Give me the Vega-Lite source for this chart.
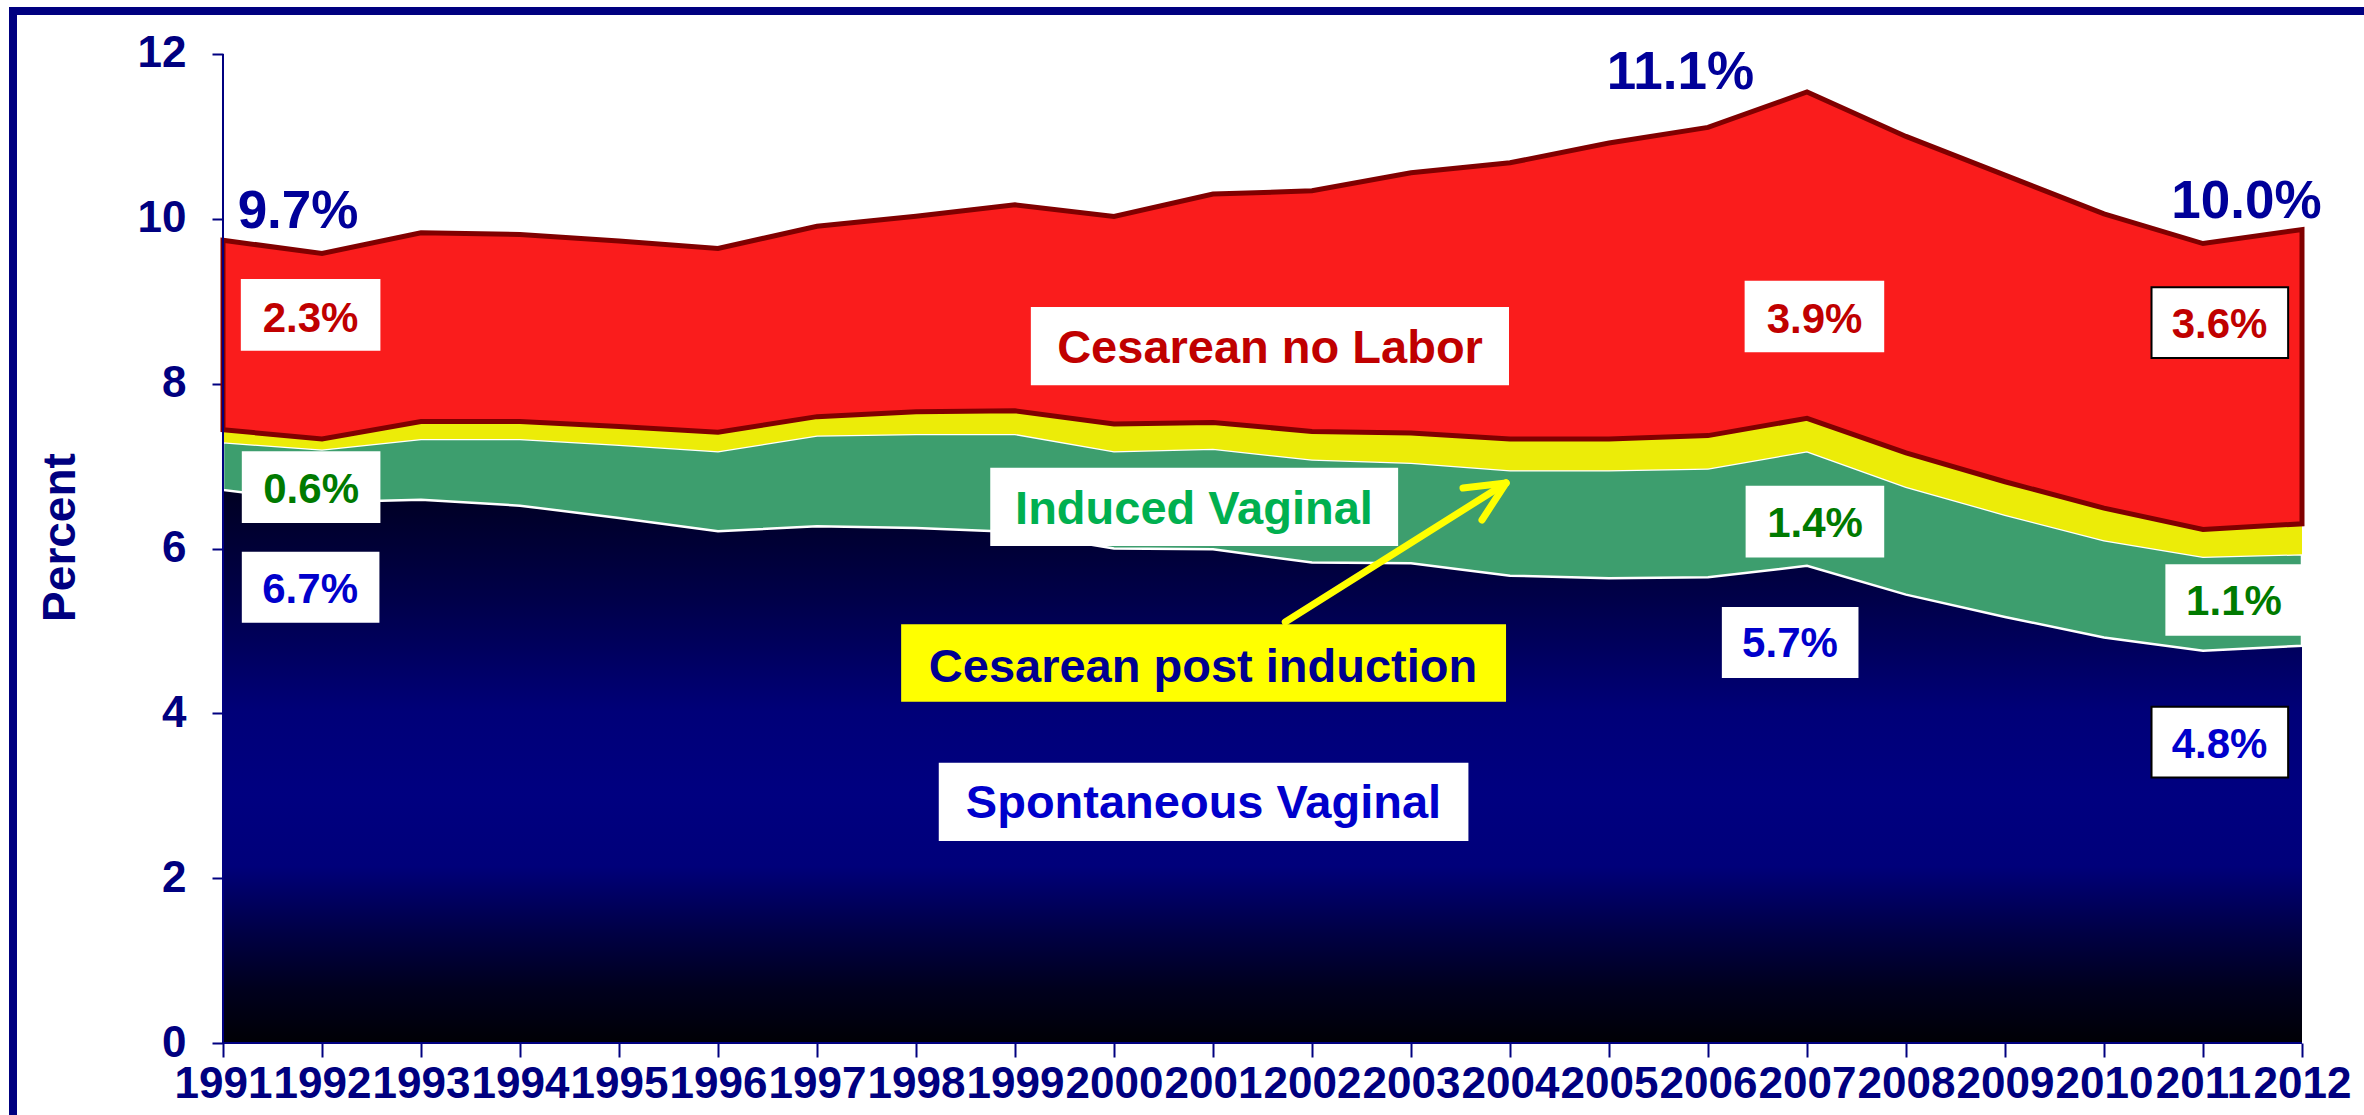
{
  "$schema": "https://vega.github.io/schema/vega-lite/v6.json",
  "width": 2355,
  "height": 1108,
  "autosize": {"type": "none"},
  "padding": {"left": 13, "top": 11, "right": 0, "bottom": 0},
  "background": "white",
  "config": {
    "view": {"stroke": "#000080", "strokeWidth": 8},
    "font": "Liberation Sans"
  },
  "datasets": {
    "births": [
      {"year": 1991, "series": "Spontaneous Vaginal", "pct": 6.71},
      {"year": 1991, "series": "Induced Vaginal", "pct": 0.58},
      {"year": 1991, "series": "Cesarean post induction", "pct": 0.15},
      {"year": 1991, "series": "Cesarean no Labor", "pct": 2.30},
      {"year": 1992, "series": "Spontaneous Vaginal", "pct": 6.56},
      {"year": 1992, "series": "Induced Vaginal", "pct": 0.64},
      {"year": 1992, "series": "Cesarean post induction", "pct": 0.13},
      {"year": 1992, "series": "Cesarean no Labor", "pct": 2.25},
      {"year": 1993, "series": "Spontaneous Vaginal", "pct": 6.59},
      {"year": 1993, "series": "Induced Vaginal", "pct": 0.74},
      {"year": 1993, "series": "Cesarean post induction", "pct": 0.21},
      {"year": 1993, "series": "Cesarean no Labor", "pct": 2.29},
      {"year": 1994, "series": "Spontaneous Vaginal", "pct": 6.52},
      {"year": 1994, "series": "Induced Vaginal", "pct": 0.81},
      {"year": 1994, "series": "Cesarean post induction", "pct": 0.21},
      {"year": 1994, "series": "Cesarean no Labor", "pct": 2.27},
      {"year": 1995, "series": "Spontaneous Vaginal", "pct": 6.37},
      {"year": 1995, "series": "Induced Vaginal", "pct": 0.89},
      {"year": 1995, "series": "Cesarean post induction", "pct": 0.22},
      {"year": 1995, "series": "Cesarean no Labor", "pct": 2.25},
      {"year": 1996, "series": "Spontaneous Vaginal", "pct": 6.21},
      {"year": 1996, "series": "Induced Vaginal", "pct": 0.97},
      {"year": 1996, "series": "Cesarean post induction", "pct": 0.23},
      {"year": 1996, "series": "Cesarean no Labor", "pct": 2.23},
      {"year": 1997, "series": "Spontaneous Vaginal", "pct": 6.27},
      {"year": 1997, "series": "Induced Vaginal", "pct": 1.10},
      {"year": 1997, "series": "Cesarean post induction", "pct": 0.23},
      {"year": 1997, "series": "Cesarean no Labor", "pct": 2.31},
      {"year": 1998, "series": "Spontaneous Vaginal", "pct": 6.25},
      {"year": 1998, "series": "Induced Vaginal", "pct": 1.14},
      {"year": 1998, "series": "Cesarean post induction", "pct": 0.27},
      {"year": 1998, "series": "Cesarean no Labor", "pct": 2.37},
      {"year": 1999, "series": "Spontaneous Vaginal", "pct": 6.20},
      {"year": 1999, "series": "Induced Vaginal", "pct": 1.19},
      {"year": 1999, "series": "Cesarean post induction", "pct": 0.28},
      {"year": 1999, "series": "Cesarean no Labor", "pct": 2.50},
      {"year": 2000, "series": "Spontaneous Vaginal", "pct": 6.00},
      {"year": 2000, "series": "Induced Vaginal", "pct": 1.18},
      {"year": 2000, "series": "Cesarean post induction", "pct": 0.33},
      {"year": 2000, "series": "Cesarean no Labor", "pct": 2.52},
      {"year": 2001, "series": "Spontaneous Vaginal", "pct": 5.99},
      {"year": 2001, "series": "Induced Vaginal", "pct": 1.22},
      {"year": 2001, "series": "Cesarean post induction", "pct": 0.32},
      {"year": 2001, "series": "Cesarean no Labor", "pct": 2.77},
      {"year": 2002, "series": "Spontaneous Vaginal", "pct": 5.83},
      {"year": 2002, "series": "Induced Vaginal", "pct": 1.25},
      {"year": 2002, "series": "Cesarean post induction", "pct": 0.34},
      {"year": 2002, "series": "Cesarean no Labor", "pct": 2.92},
      {"year": 2003, "series": "Spontaneous Vaginal", "pct": 5.82},
      {"year": 2003, "series": "Induced Vaginal", "pct": 1.22},
      {"year": 2003, "series": "Cesarean post induction", "pct": 0.36},
      {"year": 2003, "series": "Cesarean no Labor", "pct": 3.16},
      {"year": 2004, "series": "Spontaneous Vaginal", "pct": 5.67},
      {"year": 2004, "series": "Induced Vaginal", "pct": 1.28},
      {"year": 2004, "series": "Cesarean post induction", "pct": 0.38},
      {"year": 2004, "series": "Cesarean no Labor", "pct": 3.35},
      {"year": 2005, "series": "Spontaneous Vaginal", "pct": 5.64},
      {"year": 2005, "series": "Induced Vaginal", "pct": 1.31},
      {"year": 2005, "series": "Cesarean post induction", "pct": 0.38},
      {"year": 2005, "series": "Cesarean no Labor", "pct": 3.59},
      {"year": 2006, "series": "Spontaneous Vaginal", "pct": 5.65},
      {"year": 2006, "series": "Induced Vaginal", "pct": 1.32},
      {"year": 2006, "series": "Cesarean post induction", "pct": 0.40},
      {"year": 2006, "series": "Cesarean no Labor", "pct": 3.74},
      {"year": 2007, "series": "Spontaneous Vaginal", "pct": 5.79},
      {"year": 2007, "series": "Induced Vaginal", "pct": 1.39},
      {"year": 2007, "series": "Cesarean post induction", "pct": 0.40},
      {"year": 2007, "series": "Cesarean no Labor", "pct": 3.96},
      {"year": 2008, "series": "Spontaneous Vaginal", "pct": 5.44},
      {"year": 2008, "series": "Induced Vaginal", "pct": 1.31},
      {"year": 2008, "series": "Cesarean post induction", "pct": 0.41},
      {"year": 2008, "series": "Cesarean no Labor", "pct": 3.84},
      {"year": 2009, "series": "Spontaneous Vaginal", "pct": 5.17},
      {"year": 2009, "series": "Induced Vaginal", "pct": 1.24},
      {"year": 2009, "series": "Cesarean post induction", "pct": 0.40},
      {"year": 2009, "series": "Cesarean no Labor", "pct": 3.72},
      {"year": 2010, "series": "Spontaneous Vaginal", "pct": 4.92},
      {"year": 2010, "series": "Induced Vaginal", "pct": 1.18},
      {"year": 2010, "series": "Cesarean post induction", "pct": 0.39},
      {"year": 2010, "series": "Cesarean no Labor", "pct": 3.57},
      {"year": 2011, "series": "Spontaneous Vaginal", "pct": 4.76},
      {"year": 2011, "series": "Induced Vaginal", "pct": 1.14},
      {"year": 2011, "series": "Cesarean post induction", "pct": 0.33},
      {"year": 2011, "series": "Cesarean no Labor", "pct": 3.47},
      {"year": 2012, "series": "Spontaneous Vaginal", "pct": 4.82},
      {"year": 2012, "series": "Induced Vaginal", "pct": 1.11},
      {"year": 2012, "series": "Cesarean post induction", "pct": 0.37},
      {"year": 2012, "series": "Cesarean no Labor", "pct": 3.57}
    ],
    "axislines": [
      {"year": 1991, "value": 0, "year2": 1991, "value2": 12},
      {"year": 1991, "value": 0, "year2": 2012, "value2": 0}
    ],
    "arrow": [
      {"year": 2001.73, "value": 5.108, "year2": 2003.96, "value2": 6.795},
      {"year": 2003.96, "value": 6.795, "year2": 2003.525, "value2": 6.734},
      {"year": 2003.96, "value": 6.795, "year2": 2003.717, "value2": 6.346}
    ],
    "boxes": [
      {"year": 1991.18, "year2": 1992.59, "value": 9.27, "value2": 8.40, "kind": "plain"},
      {"year": 1991.19, "year2": 1992.59, "value": 7.18, "value2": 6.31, "kind": "plain"},
      {"year": 1991.19, "year2": 1992.58, "value": 5.96, "value2": 5.10, "kind": "plain"},
      {"year": 1999.16, "year2": 2003.99, "value": 8.93, "value2": 7.98, "kind": "plain"},
      {"year": 1998.75, "year2": 2002.87, "value": 6.98, "value2": 6.03, "kind": "plain"},
      {"year": 1997.85, "year2": 2003.96, "value": 5.08, "value2": 4.14, "kind": "yellow"},
      {"year": 1998.23, "year2": 2003.58, "value": 3.40, "value2": 2.45, "kind": "plain"},
      {"year": 2006.37, "year2": 2007.78, "value": 9.25, "value2": 8.38, "kind": "plain"},
      {"year": 2010.48, "year2": 2011.86, "value": 9.17, "value2": 8.31, "kind": "outlined"},
      {"year": 2006.38, "year2": 2007.78, "value": 6.76, "value2": 5.89, "kind": "plain"},
      {"year": 2010.62, "year2": 2012.01, "value": 5.81, "value2": 4.94, "kind": "plain"},
      {"year": 2006.14, "year2": 2007.52, "value": 5.29, "value2": 4.43, "kind": "plain"},
      {"year": 2010.48, "year2": 2011.86, "value": 4.08, "value2": 3.22, "kind": "outlined"}
    ],
    "notes": [
      {"text": "2.3%", "year": 1991.884, "value": 8.627, "kind": "red", "role": "pct"},
      {"text": "0.6%", "year": 1991.89, "value": 6.552, "kind": "green", "role": "pct"},
      {"text": "6.7%", "year": 1991.88, "value": 5.339, "kind": "blue", "role": "pct"},
      {"text": "3.9%", "year": 2007.076, "value": 8.615, "kind": "red", "role": "pct"},
      {"text": "3.6%", "year": 2011.167, "value": 8.554, "kind": "red", "role": "pct"},
      {"text": "1.4%", "year": 2007.081, "value": 6.139, "kind": "green", "role": "pct"},
      {"text": "1.1%", "year": 2011.313, "value": 5.193, "kind": "green", "role": "pct"},
      {"text": "5.7%", "year": 2006.828, "value": 4.684, "kind": "blue", "role": "pct"},
      {"text": "4.8%", "year": 2011.167, "value": 3.458, "kind": "blue", "role": "pct"},
      {"text": "Cesarean no Labor", "year": 2001.576, "value": 8.251, "kind": "red", "role": "name"},
      {"text": "Induced Vaginal", "year": 2000.808, "value": 6.297, "kind": "lightgreen", "role": "name"},
      {"text": "Cesarean post induction", "year": 2000.899, "value": 4.380, "kind": "navy", "role": "name"},
      {"text": "Spontaneous Vaginal", "year": 2000.904, "value": 2.730, "kind": "blue", "role": "name"},
      {"text": "9.7%", "year": 1991.758, "value": 9.89, "kind": "total", "role": "total"},
      {"text": "11.1%", "year": 2005.722, "value": 11.575, "kind": "total", "role": "total"},
      {"text": "10.0%", "year": 2011.439, "value": 10.010, "kind": "total", "role": "total"}
    ]
  },
  "encoding": {
    "x": {
      "field": "year",
      "type": "quantitative",
      "scale": {"domain": [1988.8788, 2012.6667], "nice": false, "zero": false},
      "axis": {
        "values": [1991, 1992, 1993, 1994, 1995, 1996, 1997, 1998, 1999, 2000, 2001, 2002, 2003, 2004, 2005, 2006, 2007, 2008, 2009, 2010, 2011, 2012],
        "format": "d",
        "domain": false,
        "grid": false,
        "offset": -76,
        "tickSize": 14,
        "tickWidth": 2,
        "tickColor": "#000080",
        "labelFont": "Liberation Sans",
        "labelFontSize": 44,
        "labelFontWeight": "bold",
        "labelColor": "#000080",
        "labelBaseline": "alphabetic",
        "labelPadding": 40,
        "labelOverlap": false,
        "labelFlush": false,
        "title": null
      }
    },
    "y": {
      "field": "value",
      "type": "quantitative",
      "scale": {"domain": [-0.9221, 12.5217], "nice": false, "zero": false},
      "axis": {
        "values": [0, 2, 4, 6, 8, 10, 12],
        "domain": false,
        "grid": false,
        "offset": -210,
        "tickSize": 11,
        "tickWidth": 2,
        "tickColor": "#000080",
        "labelFont": "Liberation Sans",
        "labelFontSize": 44,
        "labelFontWeight": "bold",
        "labelColor": "#000080",
        "labelPadding": 26,
        "title": "Percent",
        "titleFont": "Liberation Sans",
        "titleFontSize": 46,
        "titleFontWeight": "bold",
        "titleColor": "#000080",
        "titleAngle": -90,
        "titleX": -149,
        "titleY": 526,
        "titleAlign": "center",
        "titleBaseline": "alphabetic"
      }
    }
  },
  "layer": [
    {
      "data": {"name": "births"},
      "transform": [
        {"stack": "pct", "groupby": ["year"], "sort": [{"field": "series", "order": "descending"}], "as": ["value2", "value"]}
      ],
      "layer": [
        {
          "transform": [{"filter": "datum.series == 'Spontaneous Vaginal'"}],
          "mark": {
            "type": "area",
            "interpolate": "linear",
            "fill": {
              "gradient": "linear", "x1": 0, "y1": 0, "x2": 0, "y2": 1,
              "stops": [
                {"offset": 0, "color": "#000022"},
                {"offset": 0.2, "color": "#00004a"},
                {"offset": 0.4, "color": "#000078"},
                {"offset": 0.55, "color": "#000080"},
                {"offset": 0.68, "color": "#00007a"},
                {"offset": 0.8, "color": "#000045"},
                {"offset": 0.9, "color": "#00001e"},
                {"offset": 1, "color": "#000005"}
              ]
            }
          },
          "encoding": {"y2": {"field": "value2"}}
        },
        {
          "transform": [{"filter": "datum.series == 'Induced Vaginal'"}],
          "mark": {"type": "area", "interpolate": "linear", "fill": "#3d9e6e", "stroke": "#ffffff", "strokeWidth": 2.5},
          "encoding": {"y2": {"field": "value2"}}
        },
        {
          "transform": [{"filter": "datum.series == 'Cesarean post induction'"}],
          "mark": {"type": "area", "interpolate": "linear", "fill": "#ecec08"},
          "encoding": {"y2": {"field": "value2"}}
        },
        {
          "transform": [{"filter": "datum.series == 'Cesarean no Labor'"}],
          "mark": {"type": "area", "interpolate": "linear", "fill": "#fa1c1c", "stroke": "#800000", "strokeWidth": 5, "strokeJoin": "miter"},
          "encoding": {"y2": {"field": "value2"}}
        }
      ]
    },
    {
      "data": {"name": "axislines"},
      "mark": {"type": "rule", "color": "#000080", "strokeWidth": 2},
      "encoding": {"x2": {"field": "year2"}, "y2": {"field": "value2"}}
    },
    {
      "data": {"name": "arrow"},
      "mark": {"type": "rule", "color": "#ffff00", "strokeWidth": 7, "strokeCap": "round"},
      "encoding": {"x2": {"field": "year2"}, "y2": {"field": "value2"}}
    },
    {
      "data": {"name": "boxes"},
      "mark": {"type": "rect", "strokeWidth": 2},
      "encoding": {
        "x2": {"field": "year2"},
        "y2": {"field": "value2"},
        "fill": {"field": "kind", "type": "nominal", "scale": {"domain": ["plain", "outlined", "yellow"], "range": ["#ffffff", "#ffffff", "#ffff00"]}, "legend": null},
        "stroke": {"field": "kind", "type": "nominal", "scale": {"domain": ["plain", "outlined", "yellow"], "range": ["transparent", "#000000", "transparent"]}, "legend": null}
      }
    },
    {
      "data": {"name": "notes"},
      "transform": [{"filter": "datum.role == 'pct'"}],
      "mark": {"type": "text", "font": "Liberation Sans", "fontWeight": "bold", "fontSize": 42, "align": "center", "baseline": "alphabetic"},
      "encoding": {
        "text": {"field": "text"},
        "color": {"field": "kind", "type": "nominal", "scale": {"domain": ["red", "green", "lightgreen", "blue", "navy", "total"], "range": ["#c00000", "#007a00", "#00b050", "#0000cc", "#000090", "#000099"]}, "legend": null}
      }
    },
    {
      "data": {"name": "notes"},
      "transform": [{"filter": "datum.role == 'name'"}],
      "mark": {"type": "text", "font": "Liberation Sans", "fontWeight": "bold", "fontSize": 47, "align": "center", "baseline": "alphabetic"},
      "encoding": {
        "text": {"field": "text"},
        "color": {"field": "kind", "type": "nominal", "scale": {"domain": ["red", "green", "lightgreen", "blue", "navy", "total"], "range": ["#c00000", "#007a00", "#00b050", "#0000cc", "#000090", "#000099"]}, "legend": null}
      }
    },
    {
      "data": {"name": "notes"},
      "transform": [{"filter": "datum.role == 'total'"}],
      "mark": {"type": "text", "font": "Liberation Sans", "fontWeight": "bold", "fontSize": 53, "align": "center", "baseline": "alphabetic"},
      "encoding": {
        "text": {"field": "text"},
        "color": {"field": "kind", "type": "nominal", "scale": {"domain": ["red", "green", "lightgreen", "blue", "navy", "total"], "range": ["#c00000", "#007a00", "#00b050", "#0000cc", "#000090", "#000099"]}, "legend": null}
      }
    }
  ]
}
